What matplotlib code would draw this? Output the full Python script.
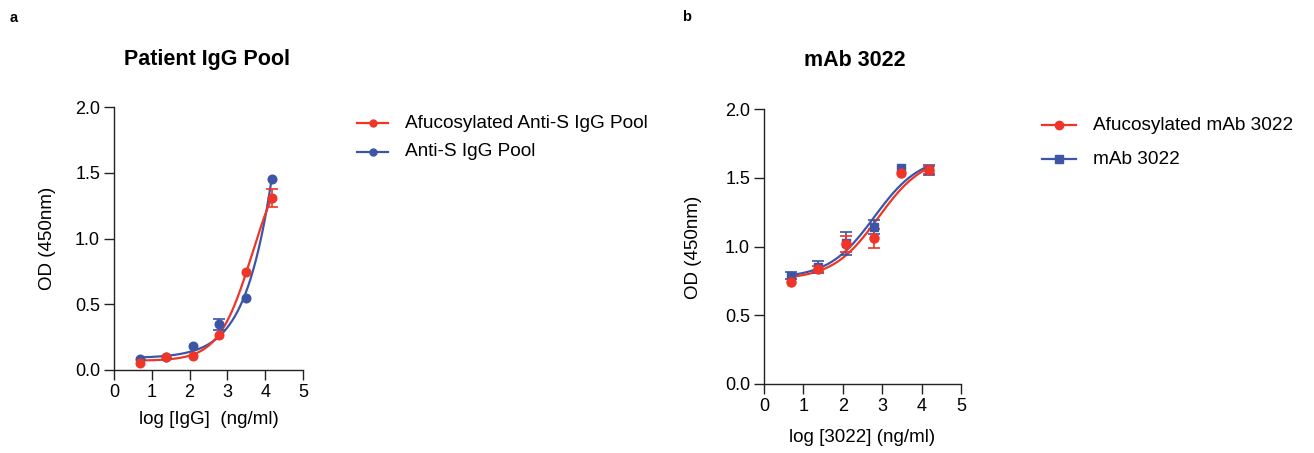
import numpy as np
import matplotlib
matplotlib.use("Agg")
import matplotlib.pyplot as plt

plt.rcParams['font.family'] = ['Liberation Sans', 'DejaVu Sans']

# ---------------- data ----------------
log_conc = [0.68, 1.38, 2.08, 2.78, 3.48, 4.18]

# Panel a: Patient IgG Pool
a_afuc_od = [0.056, 0.101, 0.106, 0.266, 0.742, 1.309]
a_afuc_err = [0.0, 0.0, 0.0, 0.0, 0.0, 0.067]
a_pool_od = [0.086, 0.100, 0.185, 0.347, 0.549, 1.456]
a_pool_err = [0.0, 0.0, 0.0, 0.04, 0.0, 0.0]
# 4PL fit parameters: bottom, top, logEC50, hill
a_afuc_fit = [0.07, 1.70, 3.657, 0.97]
a_pool_fit = [0.09, 10.0, 5.31, 0.70]

# Panel b: mAb 3022
b_afuc_od = [0.739, 0.836, 1.018, 1.059, 1.532, 1.556]
b_afuc_err = [0.0, 0.02, 0.057, 0.07, 0.0, 0.03]
b_mab_od = [0.788, 0.853, 1.023, 1.144, 1.568, 1.556]
b_mab_err = [0.024, 0.045, 0.085, 0.05, 0.0, 0.036]
b_afuc_fit = [0.76, 1.66, 2.90, 0.75]
b_mab_fit = [0.77, 1.66, 2.80, 0.75]

labels_a = ["Afucosylated Anti-S IgG Pool", "Anti-S IgG Pool"]
labels_b = ["Afucosylated mAb 3022", "mAb 3022"]

RED = '#EE3528'
BLUE = '#3C55A5'

W, H = 1314, 453
fig = plt.figure(figsize=(W / 100, H / 100), dpi=100)

TICK_FS = 13
LABEL_FS = 13.5
LEG_FS = 13.7
TITLE_FS = 15.5


def px_axes(x0, x1, y_top, y_bot):
    return fig.add_axes([x0 / W, 1 - y_bot / H, (x1 - x0) / W, (y_bot - y_top) / H])


def fourpl(x, p):
    b, t, c, h = p
    return b + (t - b) / (1 + 10 ** ((c - x) * h))


def style(ax):
    ax.set_xlim(0, 5)
    ax.set_ylim(0, 2.0)
    ax.set_xticks([0, 1, 2, 3, 4, 5])
    ax.set_yticks([0, 0.5, 1.0, 1.5, 2.0])
    ax.set_yticklabels(['0.0', '0.5', '1.0', '1.5', '2.0'])
    for s in ['top', 'right']:
        ax.spines[s].set_visible(False)
    for s in ['left', 'bottom']:
        ax.spines[s].set_linewidth(1.0)
        ax.spines[s].set_color('#222222')
    ax.tick_params(direction='out', length=7.5, width=1.0, color='#222222',
                   labelsize=TICK_FS, pad=2.5)
    ax.patch.set_alpha(0)


def draw(ax, y, err, fit, color, marker, ms):
    xs = np.linspace(log_conc[0], log_conc[-1], 300)
    ax.plot(xs, fourpl(xs, fit), color=color, lw=1.6, clip_on=False, zorder=3)
    ex = [x for x, e in zip(log_conc, err) if e > 0]
    ey = [v for v, e in zip(y, err) if e > 0]
    ee = [e for e in err if e > 0]
    if ex:
        ax.errorbar(ex, ey, yerr=ee, fmt='none', ecolor=color,
                    capsize=4, elinewidth=1.2, capthick=1.2, clip_on=False, zorder=4)
    ax.plot(log_conc, y, linestyle='none', marker=marker, color=color, ms=ms,
            clip_on=False, zorder=5)


# ---------------- panel a ----------------
axa = px_axes(114, 303, 107, 370)
style(axa)
draw(axa, a_pool_od, a_pool_err, a_pool_fit, BLUE, 'o', 6.2)
draw(axa, a_afuc_od, a_afuc_err, a_afuc_fit, RED, 'o', 6.2)

# ---------------- panel b ----------------
axb = px_axes(764, 961, 109, 384)
style(axb)
draw(axb, b_mab_od, b_mab_err, b_mab_fit, BLUE, 's', 6.0)
draw(axb, b_afuc_od, b_afuc_err, b_afuc_fit, RED, 'o', 6.5)


def ftext(x, y, s, **kw):
    fig.text(x / W, 1 - y / H, s, **kw)


# labels
ftext(14, 18, 'a', fontsize=10.5, fontweight='bold', ha='center', va='center')
ftext(687, 17, 'b', fontsize=10.5, fontweight='bold', ha='center', va='center')
ftext(207, 60, 'Patient IgG Pool', fontsize=TITLE_FS, fontweight='bold', ha='center', va='center')
ftext(855, 61, 'mAb 3022', fontsize=TITLE_FS, fontweight='bold', ha='center', va='center')
ftext(209, 419, 'log [IgG]  (ng/ml)', fontsize=LABEL_FS, ha='center', va='center')
ftext(862, 437, 'log [3022] (ng/ml)', fontsize=LABEL_FS, ha='center', va='center')
ftext(47, 238, 'OD (450nm)', fontsize=LABEL_FS, ha='center', va='center', rotation=90)
ftext(693, 247, 'OD (450nm)', fontsize=LABEL_FS, ha='center', va='center', rotation=90)


# legends (manual, Prism style)
def legend_entry(x0, x1, xt, y, color, marker, label, ms):
    fig.add_artist(plt.Line2D([x0 / W, x1 / W], [1 - y / H, 1 - y / H], color=color,
                              lw=1.6, transform=fig.transFigure))
    fig.add_artist(plt.Line2D([(x0 + x1) / 2 / W], [1 - y / H], color=color,
                              marker=marker, ms=ms, lw=0, transform=fig.transFigure))
    ftext(xt, y, label, fontsize=LEG_FS, ha='left', va='center')


legend_entry(357, 388, 405, 123, RED, 'o', labels_a[0], 5)
legend_entry(357, 388, 405, 152, BLUE, 'o', labels_a[1], 5)
legend_entry(1042, 1076, 1093, 125, RED, 'o', labels_b[0], 6)
legend_entry(1042, 1076, 1093, 159, BLUE, 's', labels_b[1], 6)

fig.savefig('out.png', dpi=100)
